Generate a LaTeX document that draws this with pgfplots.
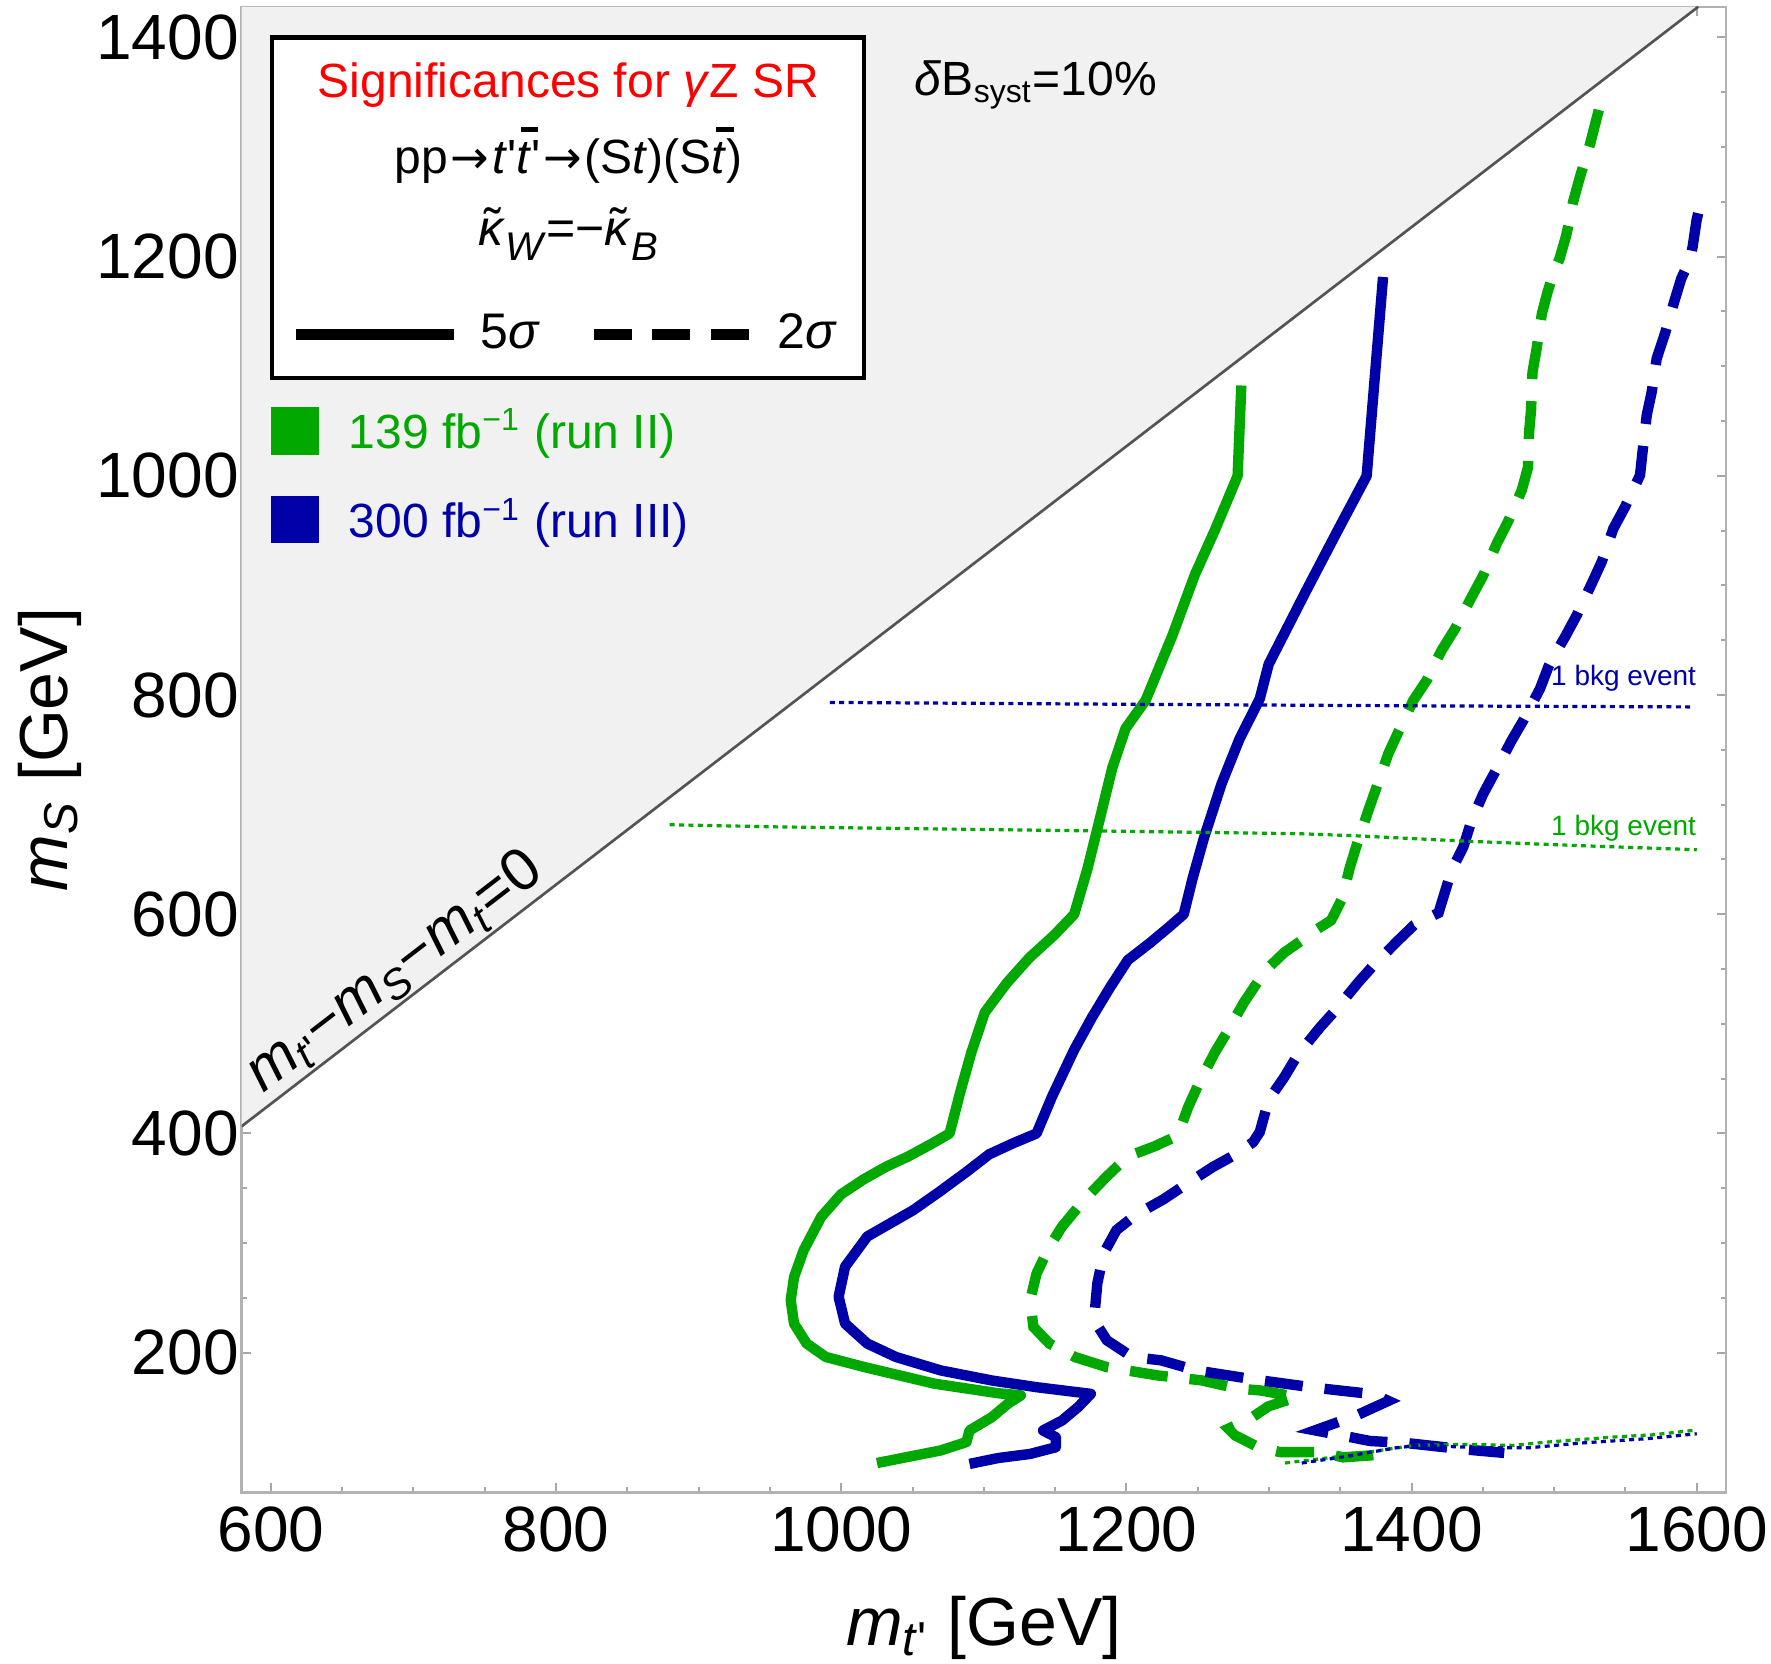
\documentclass[border=0pt]{standalone}
\usepackage{fontspec}
\setmainfont{Liberation Sans}
\newfontfamily\dejavu{DejaVu Sans}
\usepackage{pgfplots}
\pgfplotsset{compat=1.18}
\definecolor{cgreen}{rgb}{0,0.66,0}
\definecolor{cblue}{rgb}{0,0,0.66}
\definecolor{shade}{gray}{0.945}
\definecolor{diag}{gray}{0.33}
\newcommand{\tbar}{\makebox[0pt][l]{\hspace{0.1em}\rule[0.86em]{0.36em}{0.1em}}\textit{t}}
\newcommand{\kt}{\makebox[0pt][l]{\hspace{0.12em}\raisebox{0.05em}{˜}}\textit{κ}}
\newcommand{\sub}[1]{\raisebox{-0.3em}{\fontsize{10}{12}\selectfont #1}}
\newcommand{\arr}{\hspace{0.06em}{\dejavu\fontsize{11.5}{13}\selectfont →}\hspace{0.06em}}
\begin{document}
\begin{tikzpicture}
\begin{axis}[
  scale only axis, width=371.1pt, height=371.4pt,
  xmin=579.5, xmax=1620.5, ymin=72.5, ymax=1428,
  xtick={600,800,...,1600}, ytick={200,400,...,1400},
  minor tick num=3,
  tick align=inside,
  major tick length=2.25pt, minor tick length=1.25pt,
  tick style={gray!70, line width=0.5pt},
  axis line style={gray!60, line width=0.6pt},
  tick label style={font=\fontsize{16}{19}\selectfont},
  /pgf/number format/assume math mode=true,
  /pgf/number format/1000 sep={},
  yticklabel style={xshift=2.8pt},
  clip mode=individual,
  every axis x label/.style={at={(rel axis cs:0.5,0)}, anchor=base, yshift=-38.3pt, font=\fontsize{17}{20}\selectfont},
  every axis y label/.style={at={(rel axis cs:0,0.5)}, xshift=-43.5pt, rotate=90, anchor=base, font=\fontsize{17}{20}\selectfont},
  xlabel={\textit{m}\textsubscript{\textit{t}\textquotesingle} [GeV]},
  ylabel={\textit{m}\textsubscript{\textit{S}} [GeV]},
]
\coordinate (BL) at (rel axis cs:0,0);
\coordinate (TR) at (rel axis cs:1,1);
% excluded region
\addplot[fill=shade, draw=none] coordinates {(579.5,406.5) (579.5,1428) (1601,1428)} -- cycle;
\addplot[diag, line width=0.67pt] coordinates {(579.5,406.5) (1601,1428)};

% 139 fb-1, 5 sigma
\addplot[cgreen, line width=2.6pt, line join=round] coordinates {
(1280.6,1082.5) (1278,1000) (1262.1,950.6) (1248,909.8) (1232.4,854.8) (1213.5,795.2) (1199.4,769.5) (1190,733) (1180.6,683) (1172.8,642) (1163.4,600) (1149.3,580.9) (1132,560.4) (1116.4,537.7) (1100.7,510.5) (1091.3,474.1) (1083.5,437.8) (1076,400) (1064,391) (1047,379) (1031.7,369.8) (1016.1,358.4) (1000,344.6) (986,324) (973.6,293.3) (966.9,268.8) (964.6,247.9) (966.9,226.6) (975.8,208.3) (989.2,196.1) (1016.1,186.9) (1065.4,171.7) (1110,163) (1126,161) (1116.9,153.4) (1105.7,141.2) (1090,129) (1087.8,118.4) (1069.8,110.8) (1051.9,106.2) (1025.1,99.3)
};
% 300 fb-1, 5 sigma
\addplot[cblue, line width=2.6pt, line join=round] coordinates {
(1380,1181.5) (1368.5,1000) (1348.4,950.7) (1326.4,896) (1299.8,828.2) (1293.5,796.5) (1279.4,760.2) (1266.8,719.3) (1254.3,669.3) (1246.5,633) (1240.2,600) (1229.2,587.6) (1216.7,574) (1201,558.2) (1188.5,533.2) (1175.9,506) (1163.4,476.4) (1147.7,433.2) (1137,400) (1121,391.3) (1103.8,381) (1088.2,365.3) (1069.4,347.3) (1050.5,330) (1018.3,306) (1002.7,278.4) (998.2,251) (1002.7,226.6) (1018.3,208.3) (1038.5,196) (1069.8,183.8) (1105.7,174.6) (1137,168.5) (1175.1,162.4) (1166.1,150.3) (1154.9,138.1) (1141.5,129) (1150.5,122.9) (1150.5,113.7) (1132.5,107.6) (1110.2,103.9) (1090,98.5)
};
% 139 fb-1, 2 sigma
\addplot[cgreen, line width=2.6pt, dash pattern=on 9.5pt off 5.5pt] coordinates {
(1531.3,1333.9) (1525.3,1303.4) (1518.1,1272.9) (1513.3,1250.2) (1508.5,1219.6) (1503.8,1198.3) (1499.4,1184.6) (1495.4,1167.9) (1491.4,1148.2) (1487.5,1114.6) (1484.8,1094.5) (1483.8,1060.5) (1482.4,1039.5) (1481.6,1007.5) (1477.3,987) (1467.7,958.5) (1459.7,938.2) (1450.3,909.3) (1442.1,889.5) (1430.5,860.6) (1421.1,840.9) (1410.6,813.5) (1401.2,795.2) (1390.7,766.3) (1383.7,746.6) (1375.5,716.1) (1369.7,694.8) (1362,665.2) (1356.5,641.9) (1351.5,615) (1343.6,594.5) (1332.7,585.5) (1323.3,576.5) (1310.7,565.1) (1299.8,551.5) (1291.9,537.9) (1282.5,519.7) (1271.5,494.5) (1262.1,474.1) (1251.2,446.8) (1243.3,424) (1236,398) (1219.8,388.3) (1201,379) (1186,360.5) (1170,338.8) (1154.9,315.1) (1146,296.7) (1137,272.2) (1132.5,247.8) (1134.8,223.5) (1146,208.3) (1163.9,196) (1186.3,186.8) (1222.1,179.2) (1252.8,174.7) (1278.5,167.1) (1293.7,165.6) (1320,159.5) (1308.9,155) (1299.6,151) (1286.7,139.7) (1271.5,130.6) (1276.2,124.5) (1292.5,113.8) (1307.7,109.3) (1334.6,109.3) (1352,104.5) (1379,107)
};
% 300 fb-1, 2 sigma
\addplot[cblue, line width=2.6pt, dash pattern=on 9.5pt off 5.5pt] coordinates {
(1601,1239.6) (1599.9,1233.5) (1597.1,1209) (1595.1,1196.8) (1589.1,1180) (1584.5,1160.3) (1577.7,1129.9) (1571.9,1107.1) (1568.4,1076.6) (1564.9,1055.3) (1562.1,1023.4) (1560.2,1000.6) (1549.7,971.7) (1541.5,951.9) (1533.3,921.5) (1526.3,901.7) (1515.8,872.8) (1507.6,853) (1499.4,834.8) (1495.9,825.7) (1490.1,805.9) (1478.4,777) (1470.2,758.7) (1458.5,729.8) (1450.3,710) (1442.1,685.7) (1436.3,661.5) (1428.1,640.3) (1418.9,601.3) (1401.6,590) (1390.7,576.3) (1373.4,553.6) (1362.5,537.7) (1346.8,512.7) (1335.8,496.8) (1320.1,471.7) (1310.7,451.3) (1299.8,430.8) (1293.5,401.2) (1288.8,392) (1276.3,380.7) (1260.6,369.4) (1241.8,353.6) (1226.1,340) (1206.4,325.6) (1193,311.8) (1184,290.4) (1179.6,263) (1177.3,229.6) (1186.3,211.3) (1204.2,196) (1224.3,193) (1249,183.8) (1290.9,175.3) (1332.3,168) (1373.7,162) (1383.7,156) (1361.5,142.8) (1332.3,129.1) (1354.5,123.6) (1370.9,119.4) (1396.6,117.5) (1437.5,111.7) (1465,108.5)
};
% 1 bkg event contours
\addplot[cblue, line width=0.8pt, dash pattern=on 1.25pt off 1.1pt] coordinates {
(992,793.3) (1200,791.6) (1400,790.2) (1596,789.2)
};
\addplot[cgreen, line width=0.8pt, dash pattern=on 1.25pt off 1.1pt] coordinates {
(879.7,681.7) (956.5,679.7) (1176,676.1) (1321.6,673.5) (1361,671.6) (1436,666.8) (1520,662.5) (1600,658.9)
};
\addplot[cgreen, line width=0.8pt, dash pattern=on 1.25pt off 1.1pt] coordinates {
(1311.3,99.3) (1354,106) (1377.9,110.8) (1401.3,115.4) (1436.3,116.3) (1471.4,115.4) (1494.8,118.4) (1541.5,123) (1569.6,125.1) (1597.7,129.1)
};
\addplot[cblue, line width=0.8pt, dash pattern=on 1.25pt off 1.1pt] coordinates {
(1323,99.3) (1354.5,105.4) (1389.6,113.3) (1405.9,115.4) (1448,113.3) (1483.1,113.3) (1518.2,117.5) (1564.9,121.5) (1600,126)
};
\node[anchor=base east, inner sep=0, text=cblue, font=\fontsize{7}{8}\selectfont] at (axis cs:1600,809) {1 bkg event};
\node[anchor=base east, inner sep=0, text=cgreen, font=\fontsize{7}{8}\selectfont] at (axis cs:1600,672) {1 bkg event};

% legend box
\filldraw[fill=white, draw=black, line width=1.1pt] (axis cs:601,1089.5) rectangle (axis cs:1016,1400);
\node[anchor=base, inner sep=0, text=red, font=\fontsize{12}{14}\selectfont] at (axis cs:808.75,1345.5) {Significances for \textit{γ}Z SR};
\node[anchor=base, inner sep=0, font=\fontsize{12}{14}\selectfont] at (axis cs:808.75,1276) {pp\arr\textit{t}\textquotesingle\tbar\textquotesingle\arr(S\textit{t})(S\tbar)};
\node[anchor=base, inner sep=0, font=\fontsize{12.5}{14}\selectfont] at (axis cs:808.75,1209.8) {\kt\sub{\textit{W}}=−\kt\sub{\textit{B}}};
\draw[black, line width=2.7pt] (axis cs:617.6,1129.3) -- (axis cs:728.8,1129.3);
\node[anchor=base west, inner sep=0, font=\fontsize{12.5}{14}\selectfont] at (axis cs:746.6,1116.1) {5\textit{σ}};
\draw[black, line width=2.7pt, dash pattern=on 9.5pt off 5.2pt] (axis cs:826.4,1129.3) -- (axis cs:936,1129.3);
\node[anchor=base west, inner sep=0, font=\fontsize{12.5}{14}\selectfont] at (axis cs:954.9,1116.1) {2\textit{σ}};
% luminosity legend
\fill[cgreen] (axis cs:600,1019.5) rectangle (axis cs:633.5,1062.7);
\fill[cblue] (axis cs:600,938.6) rectangle (axis cs:633.5,981.7);
\node[anchor=base west, inner sep=0, text=cgreen, font=\fontsize{12}{14}\selectfont] at (axis cs:654.2,1025.1) {139 fb\textsuperscript{−1} (run II)};
\node[anchor=base west, inner sep=0, text=cblue, font=\fontsize{12}{14}\selectfont] at (axis cs:654.2,943.6) {300 fb\textsuperscript{−1} (run III)};
% systematics
\node[anchor=base west, inner sep=0, font=\fontsize{12}{14}\selectfont] at (axis cs:1051,1347.4) {\textit{δ}B\textsubscript{syst}=10\%};
% diagonal label
\node[rotate=37.55, inner sep=0, font=\fontsize{15}{18}\selectfont] at (axis cs:687,547) {\textit{m}\textsubscript{\textit{t}\textquotesingle}−\textit{m}\textsubscript{\textit{S}}−\textit{m}\textsubscript{\textit{t}}=0};
\end{axis}
\pgfresetboundingbox
\path[use as bounding box] (BL) ++(-60.4pt,-42.7pt) rectangle ([shift={(11.25pt,1.7pt)}]TR);
\end{tikzpicture}
\end{document}
